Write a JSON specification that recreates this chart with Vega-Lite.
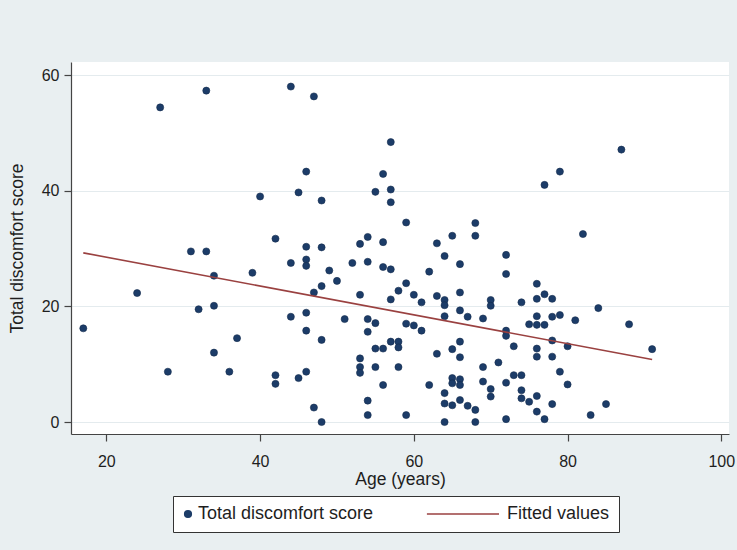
{
  "$schema": "https://vega.github.io/schema/vega-lite/v6.json",
  "autosize": {"type": "none"},
  "width": 658,
  "height": 372,
  "padding": {"left": 71, "top": 62, "right": 8, "bottom": 116},
  "background": "#e9eff1",
  "config": {
    "view": {"fill": "white", "stroke": null},
    "font": "Liberation Sans"
  },
  "datasets": {
    "scatter": [
      {"age": 27, "score": 54.4, "series": "Total discomfort score"},
      {"age": 33, "score": 57.3, "series": "Total discomfort score"},
      {"age": 44, "score": 58.0, "series": "Total discomfort score"},
      {"age": 40, "score": 39.0, "series": "Total discomfort score"},
      {"age": 42, "score": 31.7, "series": "Total discomfort score"},
      {"age": 31, "score": 29.5, "series": "Total discomfort score"},
      {"age": 33, "score": 29.5, "series": "Total discomfort score"},
      {"age": 44, "score": 27.5, "series": "Total discomfort score"},
      {"age": 34, "score": 25.3, "series": "Total discomfort score"},
      {"age": 39, "score": 25.8, "series": "Total discomfort score"},
      {"age": 24, "score": 22.3, "series": "Total discomfort score"},
      {"age": 32, "score": 19.5, "series": "Total discomfort score"},
      {"age": 34, "score": 20.1, "series": "Total discomfort score"},
      {"age": 17, "score": 16.2, "series": "Total discomfort score"},
      {"age": 44, "score": 18.2, "series": "Total discomfort score"},
      {"age": 37, "score": 14.5, "series": "Total discomfort score"},
      {"age": 34, "score": 12.0, "series": "Total discomfort score"},
      {"age": 28, "score": 8.7, "series": "Total discomfort score"},
      {"age": 36, "score": 8.7, "series": "Total discomfort score"},
      {"age": 42, "score": 8.1, "series": "Total discomfort score"},
      {"age": 42, "score": 6.6, "series": "Total discomfort score"},
      {"age": 47, "score": 56.3, "series": "Total discomfort score"},
      {"age": 57, "score": 48.4, "series": "Total discomfort score"},
      {"age": 46, "score": 43.3, "series": "Total discomfort score"},
      {"age": 56, "score": 42.9, "series": "Total discomfort score"},
      {"age": 45, "score": 39.7, "series": "Total discomfort score"},
      {"age": 55, "score": 39.8, "series": "Total discomfort score"},
      {"age": 57, "score": 40.2, "series": "Total discomfort score"},
      {"age": 48, "score": 38.3, "series": "Total discomfort score"},
      {"age": 57, "score": 38.0, "series": "Total discomfort score"},
      {"age": 59, "score": 34.5, "series": "Total discomfort score"},
      {"age": 68, "score": 34.4, "series": "Total discomfort score"},
      {"age": 68, "score": 32.2, "series": "Total discomfort score"},
      {"age": 65, "score": 32.2, "series": "Total discomfort score"},
      {"age": 54, "score": 32.0, "series": "Total discomfort score"},
      {"age": 53, "score": 30.8, "series": "Total discomfort score"},
      {"age": 56, "score": 31.1, "series": "Total discomfort score"},
      {"age": 63, "score": 30.9, "series": "Total discomfort score"},
      {"age": 46, "score": 30.3, "series": "Total discomfort score"},
      {"age": 48, "score": 30.2, "series": "Total discomfort score"},
      {"age": 64, "score": 28.7, "series": "Total discomfort score"},
      {"age": 46, "score": 28.1, "series": "Total discomfort score"},
      {"age": 46, "score": 27.0, "series": "Total discomfort score"},
      {"age": 52, "score": 27.5, "series": "Total discomfort score"},
      {"age": 54, "score": 27.7, "series": "Total discomfort score"},
      {"age": 56, "score": 26.8, "series": "Total discomfort score"},
      {"age": 57, "score": 26.4, "series": "Total discomfort score"},
      {"age": 66, "score": 27.3, "series": "Total discomfort score"},
      {"age": 62, "score": 26.0, "series": "Total discomfort score"},
      {"age": 49, "score": 26.2, "series": "Total discomfort score"},
      {"age": 50, "score": 24.4, "series": "Total discomfort score"},
      {"age": 48, "score": 23.5, "series": "Total discomfort score"},
      {"age": 47, "score": 22.4, "series": "Total discomfort score"},
      {"age": 59, "score": 24.0, "series": "Total discomfort score"},
      {"age": 58, "score": 22.7, "series": "Total discomfort score"},
      {"age": 60, "score": 22.0, "series": "Total discomfort score"},
      {"age": 53, "score": 22.0, "series": "Total discomfort score"},
      {"age": 57, "score": 21.2, "series": "Total discomfort score"},
      {"age": 61, "score": 20.7, "series": "Total discomfort score"},
      {"age": 63, "score": 21.8, "series": "Total discomfort score"},
      {"age": 64, "score": 21.1, "series": "Total discomfort score"},
      {"age": 64, "score": 20.2, "series": "Total discomfort score"},
      {"age": 66, "score": 22.4, "series": "Total discomfort score"},
      {"age": 70, "score": 21.1, "series": "Total discomfort score"},
      {"age": 70, "score": 20.1, "series": "Total discomfort score"},
      {"age": 66, "score": 19.3, "series": "Total discomfort score"},
      {"age": 67, "score": 18.2, "series": "Total discomfort score"},
      {"age": 69, "score": 17.9, "series": "Total discomfort score"},
      {"age": 64, "score": 18.3, "series": "Total discomfort score"},
      {"age": 46, "score": 18.9, "series": "Total discomfort score"},
      {"age": 51, "score": 17.8, "series": "Total discomfort score"},
      {"age": 54, "score": 17.8, "series": "Total discomfort score"},
      {"age": 55, "score": 17.1, "series": "Total discomfort score"},
      {"age": 54, "score": 15.6, "series": "Total discomfort score"},
      {"age": 59, "score": 17.0, "series": "Total discomfort score"},
      {"age": 60, "score": 16.7, "series": "Total discomfort score"},
      {"age": 61, "score": 15.8, "series": "Total discomfort score"},
      {"age": 46, "score": 15.8, "series": "Total discomfort score"},
      {"age": 48, "score": 14.2, "series": "Total discomfort score"},
      {"age": 57, "score": 13.9, "series": "Total discomfort score"},
      {"age": 58, "score": 13.9, "series": "Total discomfort score"},
      {"age": 58, "score": 12.9, "series": "Total discomfort score"},
      {"age": 55, "score": 12.7, "series": "Total discomfort score"},
      {"age": 56, "score": 12.7, "series": "Total discomfort score"},
      {"age": 66, "score": 13.9, "series": "Total discomfort score"},
      {"age": 65, "score": 12.6, "series": "Total discomfort score"},
      {"age": 63, "score": 11.8, "series": "Total discomfort score"},
      {"age": 66, "score": 11.2, "series": "Total discomfort score"},
      {"age": 71, "score": 10.3, "series": "Total discomfort score"},
      {"age": 53, "score": 11.0, "series": "Total discomfort score"},
      {"age": 53, "score": 9.5, "series": "Total discomfort score"},
      {"age": 53, "score": 8.5, "series": "Total discomfort score"},
      {"age": 55, "score": 9.5, "series": "Total discomfort score"},
      {"age": 58, "score": 9.5, "series": "Total discomfort score"},
      {"age": 69, "score": 9.5, "series": "Total discomfort score"},
      {"age": 46, "score": 8.7, "series": "Total discomfort score"},
      {"age": 45, "score": 7.6, "series": "Total discomfort score"},
      {"age": 56, "score": 6.4, "series": "Total discomfort score"},
      {"age": 62, "score": 6.4, "series": "Total discomfort score"},
      {"age": 65, "score": 7.6, "series": "Total discomfort score"},
      {"age": 66, "score": 7.4, "series": "Total discomfort score"},
      {"age": 65, "score": 6.7, "series": "Total discomfort score"},
      {"age": 66, "score": 6.4, "series": "Total discomfort score"},
      {"age": 69, "score": 7.0, "series": "Total discomfort score"},
      {"age": 70, "score": 5.7, "series": "Total discomfort score"},
      {"age": 70, "score": 4.4, "series": "Total discomfort score"},
      {"age": 64, "score": 5.0, "series": "Total discomfort score"},
      {"age": 64, "score": 3.2, "series": "Total discomfort score"},
      {"age": 65, "score": 2.9, "series": "Total discomfort score"},
      {"age": 66, "score": 3.8, "series": "Total discomfort score"},
      {"age": 67, "score": 2.8, "series": "Total discomfort score"},
      {"age": 68, "score": 2.1, "series": "Total discomfort score"},
      {"age": 54, "score": 3.7, "series": "Total discomfort score"},
      {"age": 47, "score": 2.5, "series": "Total discomfort score"},
      {"age": 54, "score": 1.2, "series": "Total discomfort score"},
      {"age": 59, "score": 1.2, "series": "Total discomfort score"},
      {"age": 48, "score": 0.0, "series": "Total discomfort score"},
      {"age": 64, "score": 0.0, "series": "Total discomfort score"},
      {"age": 68, "score": 0.0, "series": "Total discomfort score"},
      {"age": 82, "score": 32.5, "series": "Total discomfort score"},
      {"age": 72, "score": 28.9, "series": "Total discomfort score"},
      {"age": 72, "score": 25.6, "series": "Total discomfort score"},
      {"age": 76, "score": 23.9, "series": "Total discomfort score"},
      {"age": 77, "score": 22.1, "series": "Total discomfort score"},
      {"age": 76, "score": 21.3, "series": "Total discomfort score"},
      {"age": 78, "score": 21.3, "series": "Total discomfort score"},
      {"age": 74, "score": 20.7, "series": "Total discomfort score"},
      {"age": 84, "score": 19.7, "series": "Total discomfort score"},
      {"age": 76, "score": 18.3, "series": "Total discomfort score"},
      {"age": 78, "score": 18.2, "series": "Total discomfort score"},
      {"age": 79, "score": 18.5, "series": "Total discomfort score"},
      {"age": 81, "score": 17.6, "series": "Total discomfort score"},
      {"age": 75, "score": 16.9, "series": "Total discomfort score"},
      {"age": 76, "score": 16.8, "series": "Total discomfort score"},
      {"age": 77, "score": 16.8, "series": "Total discomfort score"},
      {"age": 88, "score": 16.9, "series": "Total discomfort score"},
      {"age": 72, "score": 15.8, "series": "Total discomfort score"},
      {"age": 72, "score": 14.9, "series": "Total discomfort score"},
      {"age": 78, "score": 14.1, "series": "Total discomfort score"},
      {"age": 73, "score": 13.1, "series": "Total discomfort score"},
      {"age": 80, "score": 13.1, "series": "Total discomfort score"},
      {"age": 76, "score": 12.7, "series": "Total discomfort score"},
      {"age": 76, "score": 11.3, "series": "Total discomfort score"},
      {"age": 78, "score": 11.3, "series": "Total discomfort score"},
      {"age": 91, "score": 12.6, "series": "Total discomfort score"},
      {"age": 79, "score": 8.7, "series": "Total discomfort score"},
      {"age": 73, "score": 8.1, "series": "Total discomfort score"},
      {"age": 74, "score": 8.1, "series": "Total discomfort score"},
      {"age": 72, "score": 6.8, "series": "Total discomfort score"},
      {"age": 80, "score": 6.5, "series": "Total discomfort score"},
      {"age": 74, "score": 5.5, "series": "Total discomfort score"},
      {"age": 74, "score": 4.1, "series": "Total discomfort score"},
      {"age": 75, "score": 3.5, "series": "Total discomfort score"},
      {"age": 76, "score": 4.5, "series": "Total discomfort score"},
      {"age": 78, "score": 3.1, "series": "Total discomfort score"},
      {"age": 76, "score": 1.8, "series": "Total discomfort score"},
      {"age": 77, "score": 0.5, "series": "Total discomfort score"},
      {"age": 72, "score": 0.5, "series": "Total discomfort score"},
      {"age": 85, "score": 3.1, "series": "Total discomfort score"},
      {"age": 83, "score": 1.2, "series": "Total discomfort score"},
      {"age": 87, "score": 47.1, "series": "Total discomfort score"},
      {"age": 79, "score": 43.3, "series": "Total discomfort score"},
      {"age": 77, "score": 41.0, "series": "Total discomfort score"}
    ],
    "fit": [
      {"age": 17, "fitted": 29.25, "series": "Fitted values"},
      {"age": 91, "fitted": 10.8, "series": "Fitted values"}
    ]
  },
  "layer": [
    {
      "data": {"name": "scatter"},
      "mark": {"type": "point", "filled": true, "size": 50, "opacity": 1, "stroke": "#142c4d", "strokeWidth": 0.6},
      "encoding": {
        "x": {
          "field": "age", "type": "quantitative",
          "scale": {"domain": [15.4, 101.0], "nice": false, "zero": false},
          "axis": {
            "title": "Age (years)", "values": [20, 40, 60, 80, 100], "grid": false,
            "domainColor": "#444", "domainWidth": 1.2, "tickColor": "#444", "tickWidth": 1.2, "tickSize": 7,
            "labelFontSize": 16, "labelColor": "#1e1e1e", "labelPadding": 12, "labelFlush": false,
            "titleFontSize": 17.5, "titleFontWeight": "normal", "titleColor": "#1e1e1e", "titlePadding": 1
          }
        },
        "y": {
          "field": "score", "type": "quantitative",
          "scale": {"domain": [-2.07, 62.25], "nice": false, "zero": false},
          "axis": {
            "title": "Total discomfort score", "values": [0, 20, 40, 60], "grid": true,
            "gridColor": "#e4ebee", "gridWidth": 1,
            "domainColor": "#444", "domainWidth": 1.2, "tickColor": "#444", "tickWidth": 1.2, "tickSize": 7,
            "labelFontSize": 16, "labelColor": "#1e1e1e", "labelPadding": 5, "labelAngle": 0,
            "titleFontSize": 17.5, "titleFontWeight": "normal", "titleColor": "#1e1e1e", "titlePadding": 15
          }
        },
        "color": {
          "field": "series", "type": "nominal",
          "scale": {"domain": ["Total discomfort score", "Fitted values"], "range": ["#1c3c68", "#9a4140"]},
          "legend": {
            "orient": "none", "legendX": 102, "legendY": 434, "direction": "horizontal", "title": null,
            "strokeColor": "#333", "fillColor": "white", "padding": 9, "labelFontSize": 18,
            "labelColor": "#1e1e1e", "labelLimit": 400, "columnPadding": 49, "labelOffset": 1, "symbolOffset": -3,
            "symbolSize": 45,
            "encode": {
              "symbols": {
                "update": {
                  "fill": {"signal": "datum.value === 'Fitted values' ? 'transparent' : '#1c3c68'"},
                  "stroke": {"signal": "datum.value === 'Fitted values' ? '#9a4140' : '#1c3c68'"},
                  "strokeWidth": {"signal": "datum.value === 'Fitted values' ? 1.5 : 0.5"}
                }
              }
            }
          }
        },
        "shape": {
          "field": "series", "type": "nominal",
          "scale": {"domain": ["Total discomfort score", "Fitted values"], "range": ["circle", "M-20.9,0L0.6,0"]},
          "legend": {
            "orient": "none", "legendX": 102, "legendY": 434, "direction": "horizontal", "title": null
          }
        }
      }
    },
    {
      "data": {"name": "fit"},
      "mark": {"type": "line", "strokeWidth": 1.6},
      "encoding": {
        "x": {"field": "age", "type": "quantitative"},
        "y": {"field": "fitted", "type": "quantitative"},
        "color": {"field": "series", "type": "nominal"}
      }
    }
  ]
}
